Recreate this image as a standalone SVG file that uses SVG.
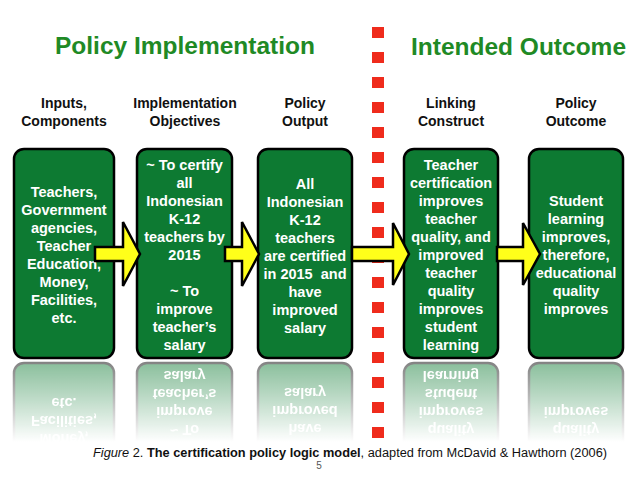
<svg xmlns="http://www.w3.org/2000/svg" xmlns:xlink="http://www.w3.org/1999/xlink" width="638" height="479" viewBox="0 0 638 479">
<style>
.title{font-family:"Liberation Sans",Arial,sans-serif;font-weight:bold;font-size:24.5px;fill:#1f8a25;text-anchor:middle}
.col{font-family:"Liberation Sans",Arial,sans-serif;font-weight:bold;font-size:14px;fill:#111;text-anchor:middle}
.box{fill:#0d7a32;stroke:#000;stroke-width:2.5}
.bt{font-family:"Liberation Sans",Arial,sans-serif;font-weight:bold;font-size:14.5px;fill:#fff;text-anchor:middle}
.arrow{fill:#ffff1a;stroke:#000;stroke-width:2.5;stroke-linejoin:miter}
.dash{fill:#ef2b1c}
.cap{font-family:"Liberation Sans",Arial,sans-serif;font-size:12.5px;fill:#111}
</style>
<defs>
<linearGradient id="fadeGrad" gradientUnits="userSpaceOnUse" x1="0" y1="360" x2="0" y2="442">
<stop offset="0" stop-color="#fff" stop-opacity="0.5"/>
<stop offset="0.45" stop-color="#fff" stop-opacity="0.28"/>
<stop offset="1" stop-color="#fff" stop-opacity="0"/>
</linearGradient>
<mask id="fade" maskUnits="userSpaceOnUse" x="0" y="359" width="638" height="95">
<rect x="0" y="359" width="638" height="95" fill="url(#fadeGrad)"/>
</mask>
</defs>
<rect width="638" height="479" fill="#fff"/>

<text class="title" x="185" y="54">Policy Implementation</text>
<text class="title" x="518.5" y="55">Intended Outcome</text>

<g id="headers">
<text class="col" x="64" y="108">Inputs,</text>
<text class="col" x="64" y="126">Components</text>
<text class="col" x="185" y="108">Implementation</text>
<text class="col" x="185" y="126">Objectives</text>
<text class="col" x="305" y="108">Policy</text>
<text class="col" x="305" y="126">Output</text>
<text class="col" x="451" y="108">Linking</text>
<text class="col" x="451" y="126">Construct</text>
<text class="col" x="576" y="108">Policy</text>
<text class="col" x="576" y="126">Outcome</text>
</g>

<g id="divider">
<rect class="dash" x="372" y="27" width="12" height="11"/>
<rect class="dash" x="372" y="52" width="12" height="11"/>
<rect class="dash" x="372" y="77" width="12" height="11"/>
<rect class="dash" x="372" y="102" width="12" height="11"/>
<rect class="dash" x="372" y="127" width="12" height="11"/>
<rect class="dash" x="372" y="152" width="12" height="11"/>
<rect class="dash" x="372" y="177" width="12" height="11"/>
<rect class="dash" x="372" y="202" width="12" height="11"/>
<rect class="dash" x="372" y="227" width="12" height="11"/>
<rect class="dash" x="372" y="252" width="12" height="11"/>
<rect class="dash" x="372" y="277" width="12" height="11"/>
<rect class="dash" x="372" y="302" width="12" height="11"/>
<rect class="dash" x="372" y="327" width="12" height="11"/>
<rect class="dash" x="372" y="352" width="12" height="11"/>
<rect class="dash" x="372" y="377" width="12" height="11"/>
<rect class="dash" x="372" y="402" width="12" height="11"/>
<rect class="dash" x="372" y="427" width="12" height="11"/>
</g>

<g id="boxes">
<g id="inputs">
<rect class="box" x="14" y="149" width="100" height="209" rx="10"/>
<text class="bt" x="64" y="197">Teachers,</text>
<text class="bt" x="64" y="215">Government</text>
<text class="bt" x="64" y="233">agencies,</text>
<text class="bt" x="64" y="251">Teacher</text>
<text class="bt" x="64" y="269">Education,</text>
<text class="bt" x="64" y="287">Money,</text>
<text class="bt" x="64" y="305">Facilities,</text>
<text class="bt" x="64" y="323">etc.</text>
</g>
<g id="objectives">
<rect class="box" x="137" y="149" width="95" height="209" rx="10"/>
<text class="bt" x="184.5" y="170">~ To certify</text>
<text class="bt" x="184.5" y="188">all</text>
<text class="bt" x="184.5" y="206">Indonesian</text>
<text class="bt" x="184.5" y="224">K-12</text>
<text class="bt" x="184.5" y="242">teachers by</text>
<text class="bt" x="184.5" y="260">2015</text>
<text class="bt" x="184.5" y="296">~ To</text>
<text class="bt" x="184.5" y="314">improve</text>
<text class="bt" x="184.5" y="332">teacher’s</text>
<text class="bt" x="184.5" y="350">salary</text>
</g>
<g id="output">
<rect class="box" x="258" y="149" width="94" height="209" rx="10"/>
<text class="bt" x="305" y="189">All</text>
<text class="bt" x="305" y="207">Indonesian</text>
<text class="bt" x="305" y="225">K-12</text>
<text class="bt" x="305" y="243">teachers</text>
<text class="bt" x="305" y="261">are certified</text>
<text class="bt" x="305" y="279" xml:space="preserve">in 2015  and</text>
<text class="bt" x="305" y="297">have</text>
<text class="bt" x="305" y="315">improved</text>
<text class="bt" x="305" y="333">salary</text>
</g>
<g id="linking">
<rect class="box" x="404" y="149" width="94" height="209" rx="10"/>
<text class="bt" x="451" y="170">Teacher</text>
<text class="bt" x="451" y="188">certification</text>
<text class="bt" x="451" y="206">improves</text>
<text class="bt" x="451" y="224">teacher</text>
<text class="bt" x="451" y="242">quality, and</text>
<text class="bt" x="451" y="260">improved</text>
<text class="bt" x="451" y="278">teacher</text>
<text class="bt" x="451" y="296">quality</text>
<text class="bt" x="451" y="314">improves</text>
<text class="bt" x="451" y="332">student</text>
<text class="bt" x="451" y="350">learning</text>
</g>
<g id="outcome">
<rect class="box" x="529" y="149" width="94" height="209" rx="10"/>
<text class="bt" x="576" y="206">Student</text>
<text class="bt" x="576" y="224">learning</text>
<text class="bt" x="576" y="242">improves,</text>
<text class="bt" x="576" y="260">therefore,</text>
<text class="bt" x="576" y="278">educational</text>
<text class="bt" x="576" y="296">quality</text>
<text class="bt" x="576" y="314">improves</text>
</g>
</g>

<g id="reflection" mask="url(#fade)">
<use xlink:href="#boxes" href="#boxes" transform="matrix(1 0 0 -1 0 721)"/>
</g>

<g id="connectors">
<path class="arrow" d="M95,247 H123 V222 L140,254 L123,286 V261 H95 Z"/>
<path class="arrow" d="M225,247 H242 V222 L259,254 L242,286 V261 H225 Z"/>
<path class="arrow" d="M352,247 H393 V223 L409,254 L393,285 V261 H352 Z"/>
<path class="arrow" d="M497,247 H523 V223 L540,254 L523,285 V261 H497 Z"/>
</g>

<text class="cap" x="93" y="457" textLength="514" lengthAdjust="spacingAndGlyphs"><tspan font-style="italic">Figure</tspan> 2. <tspan font-weight="bold">The certification policy logic model</tspan>, adapted from McDavid &amp; Hawthorn (2006)</text>
<text x="319" y="469" font-family="Liberation Sans,Arial,sans-serif" font-size="10" fill="#555" text-anchor="middle">5</text>
</svg>
